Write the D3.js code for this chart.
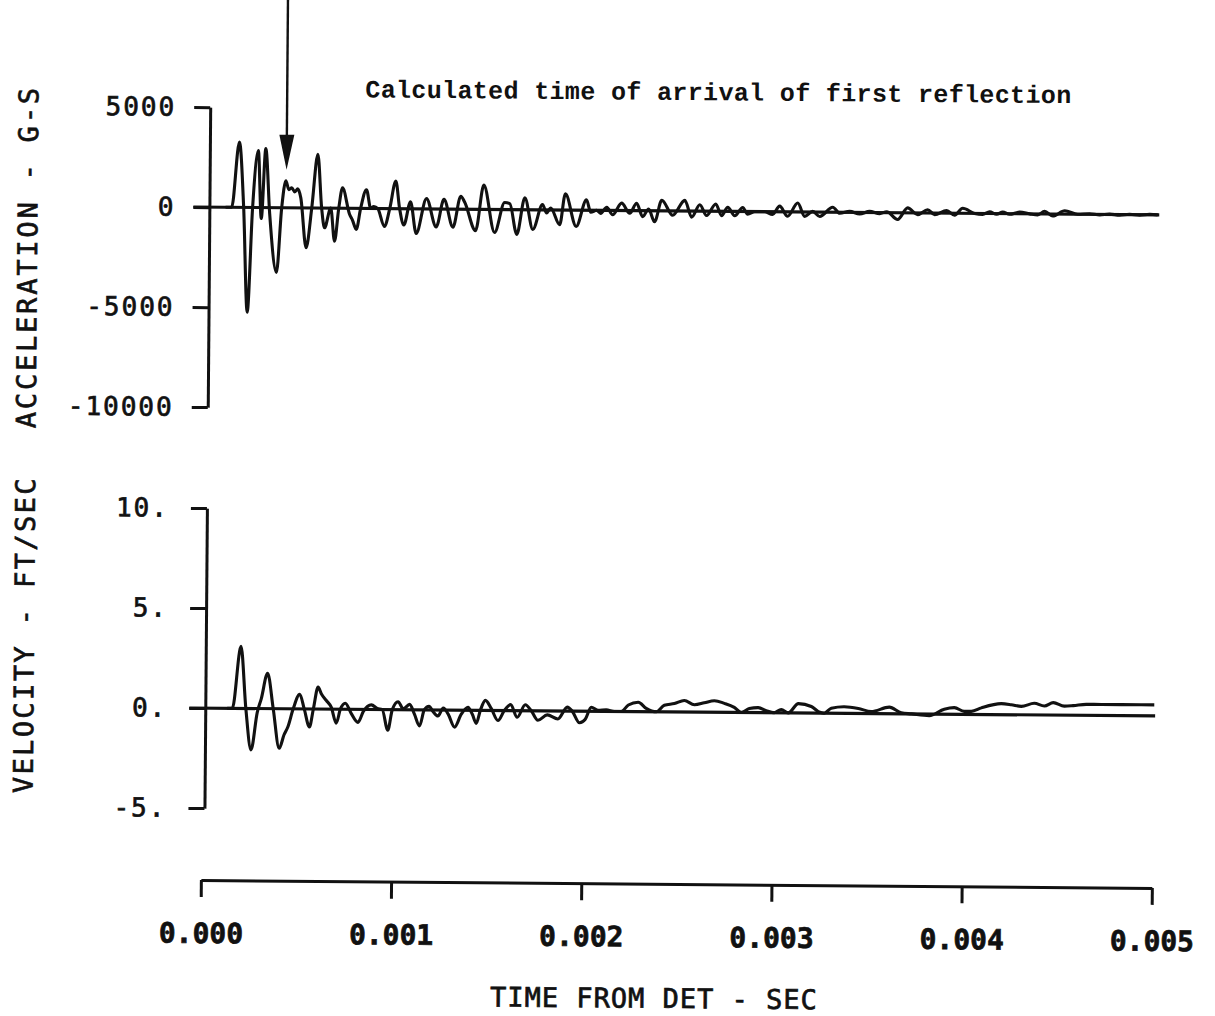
<!DOCTYPE html>
<html>
<head>
<meta charset="utf-8">
<script src="https://cdn.jsdelivr.net/npm/d3@7"></script>
<style>
  body { margin: 0; background: #fff; }
  svg { display: block; }
</style>
</head>
<body>
<div id="chart"></div>
<script>
// ------ data (time in milliseconds after detonation)

// acceleration trace, G-S
const accTimeMs = [0.101, 0.133, 0.171, 0.196, 0.219, 0.243, 0.271, 0.289, 0.310, 0.333,
  0.371, 0.396, 0.417, 0.433, 0.448, 0.464, 0.480, 0.496, 0.526, 0.554,
  0.584, 0.606, 0.622, 0.654, 0.675, 0.696, 0.715, 0.753, 0.769, 0.789,
  0.811, 0.841, 0.864, 0.880, 0.901, 0.937, 0.964, 0.995, 1.016, 1.039,
  1.073, 1.104, 1.157, 1.209, 1.249, 1.297, 1.337, 1.358, 1.416, 1.458,
  1.516, 1.568, 1.595, 1.633, 1.674, 1.717, 1.767, 1.789, 1.810, 1.858,
  1.887, 1.945, 1.998, 2.021, 2.052, 2.073, 2.105, 2.136, 2.183, 2.226,
  2.262, 2.294, 2.325, 2.357, 2.394, 2.452, 2.515, 2.552, 2.594, 2.630,
  2.678, 2.709, 2.741, 2.778, 2.820, 2.846, 2.883, 2.935, 2.977, 3.014,
  3.056, 3.109, 3.146, 3.188, 3.225, 3.293, 3.330, 3.382, 3.435, 3.487,
  3.540, 3.577, 3.635, 3.687, 3.740, 3.792, 3.829, 3.892, 3.934, 3.976,
  4.039, 4.081, 4.118, 4.155, 4.187, 4.223, 4.276, 4.329, 4.371, 4.407,
  4.450, 4.513, 4.581, 4.644, 4.697, 4.749, 4.802, 4.854, 4.907, 4.960, 5.002];
const accG = [0, 0, 3265, 0, -5235, 0, 2850, -550, 2950, -300,
  -3235, 0, 1350, 900, 1000, 800, 950, 500, -1985, 0,
  2680, 0, -985, 0, -1650, 0, 1015, -300, -600, -1050,
  0, 935, 0, 100, 0, -900, 0, 1385, 0, -815,
  350, -1235, 515, -900, 485, -900, 650, 350, -1065, 1215,
  -1150, 350, 300, -1235, 600, -985, 265, -150, 100, -735,
  815, -815, 515, -100, 0, -150, 150, -215, 367, -133,
  367, -300, 83, -550, 533, -217, 533, -300, 317, -217,
  367, -217, 200, -217, 200, -133, 0, 0, -133, 283,
  -217, 450, -217, 33, -217, 250, -50, 50, -80, 60,
  -50, 50, -333, 250, -83, 167, -80, 133, -100, 250,
  0, -50, 83, -30, 83, -30, 83, 0, -50, 133,
  -100, 167, 0, 30, -20, 20, -30, 20, -20, 30, 0];

// velocity trace, FT/SEC
const velTimeMs = [0.131, 0.158, 0.201, 0.229, 0.258, 0.289, 0.310, 0.342, 0.373, 0.406,
  0.431, 0.451, 0.478, 0.512, 0.536, 0.564, 0.584, 0.608, 0.626, 0.652,
  0.678, 0.705, 0.726, 0.752, 0.783, 0.819, 0.847, 0.889, 0.920, 0.946,
  0.976, 0.999, 1.029, 1.057, 1.090, 1.115, 1.143, 1.167, 1.192, 1.215,
  1.239, 1.267, 1.293, 1.327, 1.362, 1.397, 1.420, 1.441, 1.462, 1.488,
  1.519, 1.555, 1.588, 1.621, 1.656, 1.698, 1.730, 1.765, 1.814, 1.870,
  1.919, 1.945, 1.984, 2.014, 2.045, 2.082, 2.124, 2.166, 2.203, 2.240,
  2.292, 2.334, 2.387, 2.429, 2.482, 2.534, 2.587, 2.639, 2.692, 2.745,
  2.797, 2.834, 2.876, 2.923, 2.965, 3.007, 3.044, 3.081, 3.134, 3.202,
  3.239, 3.270, 3.307, 3.375, 3.449, 3.517, 3.612, 3.675, 3.728, 3.822,
  3.901, 3.954, 4.006, 4.043, 4.096, 4.201, 4.253, 4.306, 4.374, 4.427,
  4.474, 4.532, 4.579, 4.648, 4.727, 4.832, 4.937, 5.005];
const velFtSec = [0, 0, 3.1, 0, -2.07, -0.2, 0.5, 1.77, 0, -1.98,
  -1.3, -0.9, 0, 0.73, 0, -0.9, 0, 1.1, 0.75, 0.43,
  0.1, -0.7, 0, 0.3, -0.2, -0.65, -0.1, 0.23, 0.05, 0,
  -1.03, 0, 0.4, 0.05, 0.27, -0.2, -0.8, 0, 0.18, -0.1,
  -0.3, 0.1, -0.2, -0.85, -0.2, 0.15, -0.2, -0.65, 0, 0.5,
  0.1, -0.5, 0, 0.3, -0.33, 0.3, 0, -0.47, -0.2, -0.4,
  0.2, 0, -0.58, -0.4, 0.2, 0.05, 0.08, 0, 0, 0.33,
  0.47, 0.17, 0, 0.33, 0.42, 0.58, 0.37, 0.47, 0.58, 0.45,
  0.25, 0, 0.2, 0.25, 0.1, 0, 0.17, 0, 0.47, 0.33,
  0.08, 0, 0.25, 0.33, 0.25, 0.1, 0.33, 0.05, 0, -0.08,
  0.25, 0.33, 0.15, 0.15, 0.33, 0.55, 0.5, 0.42, 0.58, 0.45,
  0.62, 0.45, 0.48, 0.55, 0.55, 0.55, 0.55, 0.55];

const timeTicks = [0, 0.001, 0.002, 0.003, 0.004, 0.005];
const accTicks = [5000, 0, -5000, -10000];
const velTicks = [10, 5, 0, -5];

const arrowTimeMs = 0.42;
const noteText = "Calculated time of arrival of first reflection";
const accTitle = "ACCELERATION - G-S";
const velTitle = "VELOCITY - FT/SEC";
const timeTitle = "TIME FROM DET - SEC";

// ------ look
const ink = "#111";
const plotFont = "'DejaVu Sans Mono', monospace";
const typeFont = "'Liberation Mono', 'Courier New', monospace";

const width = 1215, height = 1016;

const svg = d3.select("#chart")
  .append("svg")
  .attr("width", width)
  .attr("height", height);

svg.append("rect")
  .attr("width", width)
  .attr("height", height)
  .attr("fill", "#fff");

// the scanned sheet sits a little crooked
const g = svg.append("g")
  .attr("transform", "rotate(0.47, 680, 500)");

const x = d3.scaleLinear().domain([0, 0.005]).range([204, 1155]);
const yAcc = d3.scaleLinear().domain([-10000, 5000]).range([411, 111]);
const yVel = d3.scaleLinear().domain([-5, 10]).range([812, 512]);

const axisX = 207;
const xEnd = x(0.00501);

// plotter pen: thicken the glyphs a little
function penText(sel) {
  sel.attr("fill", ink)
    .attr("stroke", ink)
    .attr("stroke-width", 0.7)
    .style("font-family", plotFont);
}

function styleAxis(sel, size) {
  sel.select(".domain").attr("stroke", ink).attr("stroke-width", 3);
  sel.selectAll(".tick line").attr("stroke", ink).attr("stroke-width", 3);
  sel.selectAll(".tick text")
    .call(penText)
    .style("font-size", size + "px")
    .style("letter-spacing", "2px");
}

// ------ top panel: acceleration
g.append("g")
  .attr("transform", `translate(${axisX},0)`)
  .call(d3.axisLeft(yAcc).tickValues(accTicks).tickSize(16).tickSizeOuter(0)
    .tickPadding(18).tickFormat(d => String(d)))
  .call(s => styleAxis(s, 26));

g.append("line")
  .attr("x1", axisX - 16).attr("x2", xEnd)
  .attr("y1", yAcc(0)).attr("y2", yAcc(0))
  .attr("stroke", ink).attr("stroke-width", 3.2);

const accLine = d3.line()
  .x((d, i) => x(accTimeMs[i] / 1000))
  .y(d => yAcc(d))
  .curve(d3.curveMonotoneX);

g.append("path")
  .datum(accG)
  .attr("d", accLine)
  .attr("fill", "none")
  .attr("stroke", ink)
  .attr("stroke-width", 3.1)
  .attr("stroke-linejoin", "round");

g.append("text")
  .attr("transform", `translate(35,${(yAcc(5000) + yAcc(-10000)) / 2 + 1}) rotate(-90)`)
  .attr("text-anchor", "middle")
  .call(penText)
  .style("font-size", "27px")
  .style("letter-spacing", "2.8px")
  .text(accTitle);

// arrow marking first reflection
const ax = x(arrowTimeMs / 1000);
g.append("line")
  .attr("x1", ax).attr("x2", ax)
  .attr("y1", -10).attr("y2", 145)
  .attr("stroke", ink).attr("stroke-width", 2.4);
g.append("path")
  .attr("d", `M${ax - 7.5},138 L${ax + 7.5},138 L${ax},173 Z`)
  .attr("fill", ink);

g.append("text")
  .attr("x", 362)
  .attr("y", 100)
  .attr("fill", ink)
  .style("font-family", typeFont)
  .style("font-size", "25px")
  .style("font-weight", "bold")
  .style("letter-spacing", "0.35px")
  .text(noteText);

// ------ bottom panel: velocity
g.append("g")
  .attr("transform", `translate(${axisX},0)`)
  .call(d3.axisLeft(yVel).tickValues(velTicks).tickSize(16).tickSizeOuter(0)
    .tickPadding(22).tickFormat(d => d + "."))
  .call(s => styleAxis(s, 26));

g.append("line")
  .attr("x1", axisX - 16).attr("x2", xEnd)
  .attr("y1", yVel(0)).attr("y2", yVel(0))
  .attr("stroke", ink).attr("stroke-width", 3.2);

const velLine = d3.line()
  .x((d, i) => x(velTimeMs[i] / 1000))
  .y(d => yVel(d))
  .curve(d3.curveMonotoneX);

g.append("path")
  .datum(velFtSec)
  .attr("d", velLine)
  .attr("fill", "none")
  .attr("stroke", ink)
  .attr("stroke-width", 3.1)
  .attr("stroke-linejoin", "round");

g.append("text")
  .attr("transform", `translate(35,640) rotate(-90)`)
  .attr("text-anchor", "middle")
  .call(penText)
  .style("font-size", "27px")
  .style("letter-spacing", "2.4px")
  .text(velTitle);

// ------ time axis
g.append("g")
  .attr("transform", "translate(0,884)")
  .call(d3.axisBottom(x).tickValues(timeTicks).tickSize(17).tickSizeOuter(0)
    .tickPadding(26).tickFormat(d3.format(".3f")))
  .call(s => styleAxis(s, 28))
  .call(s => s.selectAll(".tick text").style("font-weight", "bold").style("letter-spacing", "0px"));

g.append("text")
  .attr("x", 658)
  .attr("y", 1008)
  .attr("text-anchor", "middle")
  .call(penText)
  .style("font-size", "27px")
  .style("letter-spacing", "1px")
  .text(timeTitle);
</script>
</body>
</html>
